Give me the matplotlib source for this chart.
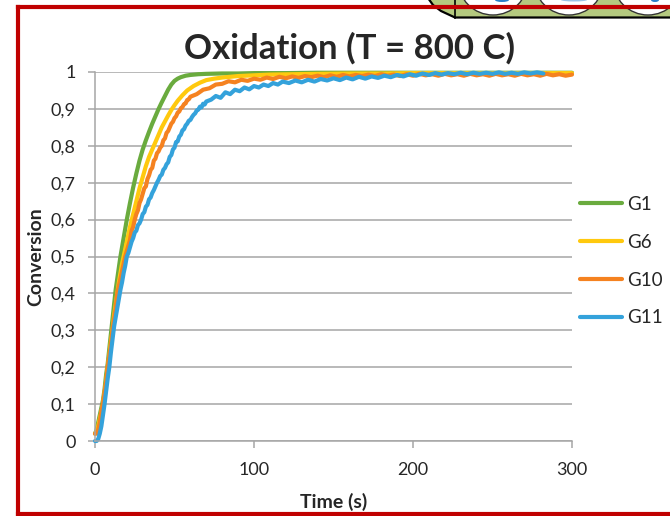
import matplotlib
matplotlib.use("Agg")
import matplotlib.pyplot as plt
from matplotlib.patches import Polygon, Circle, Ellipse

plt.rcParams['font.family'] = ['Lato', 'DejaVu Sans']

# ---- data -------------------------------------------------------------
t_g1 = [0, 1, 2, 3, 4, 5, 6, 7, 8, 9, 10, 11, 12, 13, 14, 15, 16, 17, 18, 19, 20,
        22, 24, 26, 28, 30, 32, 34, 36, 38, 40, 42, 44, 46, 48, 50, 52, 54, 57, 60,
        65, 70, 80, 90, 100, 120, 140, 160, 180, 200, 220, 240, 260, 280, 300]
y_g1 = [0.02, 0.03, 0.05, 0.07, 0.09, 0.11, 0.14, 0.18, 0.21, 0.25, 0.29, 0.33, 0.37,
        0.41, 0.44, 0.47, 0.50, 0.525, 0.55, 0.575, 0.60, 0.645, 0.687, 0.725, 0.76,
        0.79, 0.815, 0.838, 0.86, 0.88, 0.90, 0.918, 0.935, 0.952, 0.966, 0.976,
        0.982, 0.986, 0.99, 0.992, 0.994, 0.995, 0.996, 0.996, 0.997, 0.997, 0.998,
        0.998, 0.998, 0.998, 0.998, 0.998, 0.998, 0.998, 0.998]

t_g6 = [0, 1, 2, 3, 4, 5, 6, 7, 8, 9, 10, 11, 12, 13, 14, 15, 16, 17, 18, 19, 20,
        22, 24, 26, 28, 30, 32, 34, 36, 38, 40, 42, 44, 46, 48, 50, 52, 55, 58, 62,
        66, 70, 75, 80, 90, 100, 110, 125, 140, 160, 180, 200, 225, 250, 275, 300]
y_g6 = [0.02, 0.025, 0.04, 0.06, 0.08, 0.10, 0.13, 0.16, 0.20, 0.23, 0.27, 0.30, 0.34,
        0.37, 0.40, 0.43, 0.455, 0.48, 0.50, 0.52, 0.54, 0.58, 0.615, 0.65, 0.685,
        0.715, 0.745, 0.77, 0.79, 0.81, 0.83, 0.85, 0.866, 0.882, 0.897, 0.91,
        0.922, 0.937, 0.95, 0.962, 0.971, 0.978, 0.982, 0.985, 0.989, 0.991, 0.993,
        0.994, 0.995, 0.996, 0.996, 0.997, 0.997, 0.997, 0.997, 0.997]

t_g10 = list(range(0, 61)) + list(range(64, 301, 4))
y_g10 = [0.02, 0.02, 0.03, 0.05, 0.08, 0.10, 0.13, 0.16, 0.20, 0.23, 0.26, 0.30, 0.33,
         0.36, 0.40, 0.42, 0.44, 0.46, 0.48, 0.50,
         0.515, 0.53, 0.545, 0.57, 0.58, 0.60, 0.615, 0.625, 0.645, 0.655, 0.67, 0.685,
         0.69, 0.71, 0.72, 0.735, 0.74, 0.76, 0.765, 0.78, 0.785, 0.795, 0.80, 0.815,
         0.82, 0.835, 0.84, 0.85, 0.86, 0.865, 0.875, 0.88, 0.89, 0.893, 0.902, 0.905,
         0.913, 0.915, 0.924, 0.926, 0.933,
         0.94, 0.952, 0.956, 0.966, 0.968, 0.975, 0.972, 0.979, 0.976, 0.982, 0.979,
         0.985, 0.981, 0.987, 0.983, 0.988, 0.984, 0.989, 0.986, 0.990, 0.986, 0.991,
         0.987, 0.992, 0.988, 0.992, 0.989, 0.993, 0.989, 0.994, 0.990, 0.993, 0.989,
         0.994, 0.990, 0.995, 0.991, 0.994, 0.990, 0.995, 0.991, 0.994, 0.990, 0.995,
         0.991, 0.994, 0.990, 0.995, 0.991, 0.994, 0.990, 0.995, 0.991, 0.994, 0.990,
         0.995, 0.991, 0.994, 0.990, 0.993]

t_g11 = (list(range(0, 71)) + list(range(73, 119, 3)) + list(range(122, 283, 4)))
y_g11 = [0.0, 0.0, 0.005, 0.02, 0.04, 0.07, 0.10, 0.135, 0.17, 0.20, 0.24, 0.275, 0.31,
         0.335, 0.36, 0.385, 0.41, 0.43, 0.455, 0.475, 0.50,
         0.51, 0.525, 0.54, 0.55, 0.565, 0.57, 0.585, 0.59, 0.60, 0.615, 0.62, 0.635,
         0.64, 0.655, 0.66, 0.672, 0.68, 0.69, 0.70, 0.708, 0.718, 0.722, 0.735, 0.74,
         0.75, 0.755, 0.77, 0.775, 0.79, 0.795, 0.81, 0.812, 0.825, 0.83, 0.842, 0.845,
         0.855, 0.86, 0.868, 0.87, 0.878, 0.884, 0.888, 0.896, 0.898, 0.906, 0.904,
         0.914, 0.912, 0.92,
         0.925, 0.935, 0.93, 0.945, 0.94, 0.952, 0.948, 0.958, 0.953, 0.962, 0.958,
         0.966, 0.962, 0.97, 0.966, 0.974,
         0.97, 0.977, 0.972, 0.979, 0.974, 0.981, 0.977, 0.983, 0.978, 0.985, 0.98,
         0.987, 0.982, 0.988, 0.984, 0.99, 0.986, 0.992, 0.988, 0.994, 0.99, 0.996,
         0.992, 0.997, 0.993, 0.997, 0.994, 0.998, 0.994, 0.998, 0.995, 0.998, 0.995,
         0.999, 0.995, 0.998, 0.995, 0.999, 0.996, 0.999, 0.996]

series_names = ["G1", "G6", "G10", "G11"]
series_colors = ["#6aab3e", "#ffc90e", "#f58220", "#34a2db"]

y_ticks = [0, 0.1, 0.2, 0.3, 0.4, 0.5, 0.6, 0.7, 0.8, 0.9, 1.0]
y_tick_labels = ["0", "0,1", "0,2", "0,3", "0,4", "0,5", "0,6", "0,7", "0,8", "0,9", "1"]
x_ticks = [0, 100, 200, 300]
x_tick_labels = ["0", "100", "200", "300"]

title_text = "Oxidation (T = 800 C)"
x_label = "Time (s)"
y_label = "Conversion"

# ---- figure -----------------------------------------------------------
W, H = 670, 516
fig = plt.figure(figsize=(W / 100, H / 100), dpi=100)
fig.patch.set_facecolor("white")

# background layer in pixel coordinates (frame + corner graphic)
bg = fig.add_axes([0, 0, 1, 1], zorder=0)
bg.set_xlim(0, W)
bg.set_ylim(H, 0)
bg.axis("off")

green_shape = Polygon([(428, -2), (433, 5), (441, 11), (455, 17.5), (675, 17.5), (675, -2)],
                      closed=True, facecolor="#b4c97f", edgecolor="black", linewidth=1.6)
bg.add_patch(green_shape)
bg.plot([455, 455], [-2, 17.5], color="black", lw=1.2)
for cx in (493, 569, 648):
    bg.add_patch(Circle((cx, -20), 35, facecolor="white", edgecolor="#333333", lw=1.0))
bg.add_patch(Ellipse((502, 0), 14, 4, facecolor="#2a7fc8", edgecolor="none"))
bg.add_patch(Ellipse((574, 0), 26, 3, facecolor="#9cc3e6", edgecolor="none"))
bg.add_patch(Ellipse((655, 0), 8, 4, facecolor="#2a7fc8", edgecolor="none"))

red = "#c00000"
bg.plot([18, 675], [7, 7], color=red, lw=3.0, solid_capstyle="projecting")
bg.plot([18, 18], [7, 514], color=red, lw=3.0, solid_capstyle="projecting")
bg.plot([18, 675], [514, 514], color=red, lw=3.0, solid_capstyle="projecting")

# main chart
x0, x1, ypix0, ypix1 = 95, 572, 441, 72
ax = fig.add_axes([x0 / W, 1 - ypix0 / H, (x1 - x0) / W, (ypix0 - ypix1) / H], zorder=1)
ax.patch.set_alpha(0)

grid_col = "#a6a6a6"
text_col = "#262626"
for sp in ("top", "right"):
    ax.spines[sp].set_visible(False)
for sp in ("left", "bottom"):
    ax.spines[sp].set_color(grid_col)
    ax.spines[sp].set_linewidth(1.1)

ax.set_xlim(0, 300)
ax.set_ylim(0, 1)
ax.set_yticks(y_ticks)
ax.set_yticklabels(y_tick_labels)
ax.set_xticks(x_ticks)
ax.set_xticklabels(x_tick_labels)
ax.tick_params(axis="y", length=5, width=1.1, color=grid_col, pad=9,
               labelsize=13, labelcolor=text_col)
ax.tick_params(axis="x", length=5, width=1.1, color=grid_col, pad=10,
               labelsize=13, labelcolor=text_col)
ax.grid(axis="y", color=grid_col, linewidth=1.1)
ax.set_axisbelow(True)

data = [(t_g1, y_g1), (t_g6, y_g6), (t_g10, y_g10), (t_g11, y_g11)]
for (tt, yy), name, col in zip(data, series_names, series_colors):
    ax.plot(tt, yy, color=col, lw=3.0, label=name, clip_on=False,
            solid_joinstyle="round", solid_capstyle="round")

ax.set_xlabel(x_label, fontsize=14, fontweight="bold", color=text_col)
ax.set_ylabel(y_label, fontsize=14, fontweight="bold", color=text_col)
ax.xaxis.set_label_coords(0.5, (ypix0 - 493) / (ypix0 - ypix1))
ax.yaxis.set_label_coords((44 - x0) / (x1 - x0), 0.5)

fig.text(350 / W, 1 - 48 / H, title_text, ha="center", va="center",
         fontsize=25, fontweight="bold", color=text_col)

leg = ax.legend(loc="upper left", bbox_to_anchor=(580 / W, 1 - 196 / H),
                bbox_transform=fig.transFigure, frameon=False, fontsize=13.5,
                handlelength=2.24, handletextpad=0.27, labelspacing=1.11,
                borderpad=0, borderaxespad=0)
for txt in leg.get_texts():
    txt.set_color(text_col)

fig.savefig("out.png", dpi=100, facecolor="white")
